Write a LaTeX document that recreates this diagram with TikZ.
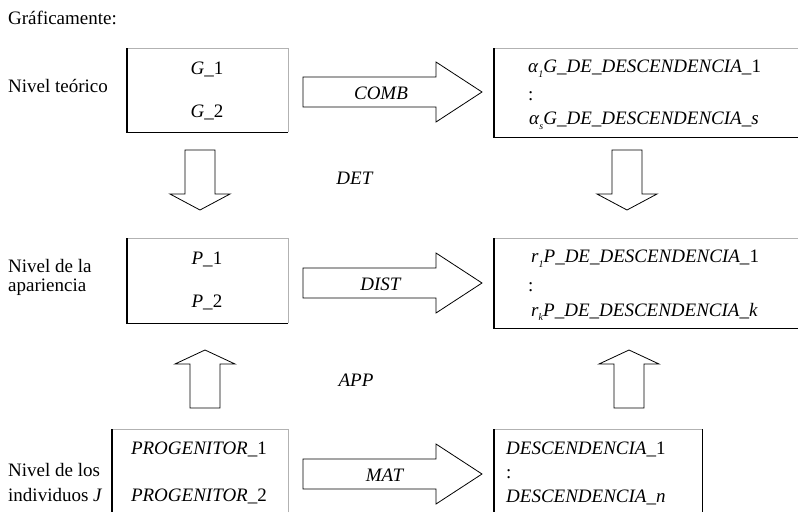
\documentclass[tikz,border=0pt]{standalone}
\usepackage{fontspec}
\setmainfont{Liberation Serif}

\newcommand{\lowidx}[1]{\raisebox{-0.25em}{\fontsize{10}{10}\selectfont\textit{#1}}}

\begin{document}
\begin{tikzpicture}[x=1pt,y=-1pt,
	font=\fontsize{19}{22}\selectfont,
	dark/.style={black,line width=1.2pt},
	light/.style={gray!60,line width=0.8pt},
	blockarrow/.style={black,line width=0.8pt,line join=miter},
	levelbox/.style={rectangle,inner sep=0pt,anchor=north west},
	txt/.style={inner sep=0pt}]

	\useasboundingbox (0,0) rectangle (798,512);

	% heading and level names
	\node[txt,anchor=west] (titulo) at (8,18) {Gráficamente:};
	\node[txt,anchor=west] (teorico) at (8,86) {Nivel teórico};
	\node[txt,anchor=west] (apar1) at (8,266) {Nivel de la};
	\node[txt,anchor=west] (apar2) at (8,287) {apariencia};
	\node[txt,anchor=west] (indiv1) at (8,470) {Nivel de los};
	\node[txt,anchor=west] (indiv2) at (8,495) {individuos \textit{J}};

	% boxes
	\node[levelbox,minimum width=161pt,minimum height=84pt] (G) at (127,48) {};
	\node[levelbox,minimum width=304pt,minimum height=89pt] (GD) at (494,48) {};
	\node[levelbox,minimum width=161pt,minimum height=85pt] (P) at (127,238) {};
	\node[levelbox,minimum width=304pt,minimum height=90pt] (PD) at (494,238) {};
	\node[levelbox,minimum width=176pt,minimum height=83pt] (J) at (112,429) {};
	\node[levelbox,minimum width=208pt,minimum height=83pt] (JD) at (494,429) {};

	\draw[light] (G.south east) -- (G.north east) -- (G.north west);
	\draw[dark] (G.north west) -- (G.south west) -- (G.south east);
	\draw[light] (GD.north east) -- (GD.north west);
	\draw[dark] (GD.north west) -- (GD.south west) -- (GD.south east);
	\draw[light] (P.south east) -- (P.north east) -- (P.north west);
	\draw[dark] (P.north west) -- (P.south west) -- (P.south east);
	\draw[light] (PD.north east) -- (PD.north west);
	\draw[dark] (PD.north west) -- (PD.south west) -- (PD.south east);
	\draw[light] (J.south east) -- (J.north east) -- (J.north west);
	\draw[dark] (J.north west) -- (J.south west);
	\draw[light] (JD.north west) -- (JD.north east);
	\draw[dark] (JD.north east) -- (JD.south east);
	\draw[dark] (JD.north west) -- (JD.south west);

	% box contents
	\node[txt] (g1) at (207,69) {\textit{G\_}1};
	\node[txt] (g2) at (207,112) {\textit{G\_}2};
	\node[txt,anchor=west] (gd1) at (528,69) {\textit{α}\lowidx{1}\textit{G\_DE\_DESCENDENCIA\_}1};
	\node[txt,anchor=west] (gd2) at (528,96) {:};
	\node[txt,anchor=west] (gd3) at (529,121) {\textit{α}\lowidx{s}\textit{G\_DE\_DESCENDENCIA\_s}};

	\node[txt] (p1) at (207,259) {\textit{P\_}1};
	\node[txt] (p2) at (207,302) {\textit{P\_}2};
	\node[txt,anchor=west] (pd1) at (531,259) {\textit{r}\lowidx{1}\textit{P\_DE\_DESCENDENCIA\_}1};
	\node[txt,anchor=west] (pd2) at (528,287) {:};
	\node[txt,anchor=west] (pd3) at (531,312) {\textit{r}\lowidx{k}\textit{P\_DE\_DESCENDENCIA\_k}};

	\node[txt] (j1) at (199,449) {\textit{PROGENITOR\_}1};
	\node[txt] (j2) at (199,496) {\textit{PROGENITOR\_}2};
	\node[txt,anchor=west] (jd1) at (506,449) {\textit{DESCENDENCIA\_}1};
	\node[txt,anchor=west] (jd2) at (506,474) {:};
	\node[txt,anchor=west] (jd3) at (506,497) {\textit{DESCENDENCIA\_n}};

	% horizontal block arrows
	\draw[blockarrow] (303,77) -- (436,77) -- (436,62) -- (482,92) -- (436,122) -- (436,107) -- (303,107) -- cycle;
	\draw[blockarrow] (303,268) -- (436,268) -- (436,253) -- (482,283) -- (436,313) -- (436,298) -- (303,298) -- cycle;
	\draw[blockarrow] (303,459) -- (436,459) -- (436,444) -- (482,474) -- (436,504) -- (436,489) -- (303,489) -- cycle;
	\node[txt] (comb) at (381,93) {\textit{COMB}};
	\node[txt] (dist) at (381,284) {\textit{DIST}};
	\node[txt] (mat) at (385,475) {\textit{MAT}};

	% vertical block arrows
	\draw[blockarrow] (185,150) -- (215,150) -- (215,194) -- (230,194) -- (200,210) -- (170,194) -- (185,194) -- cycle;
	\draw[blockarrow] (612,150) -- (642,150) -- (642,194) -- (657,194) -- (627,210) -- (597,194) -- (612,194) -- cycle;
	\draw[blockarrow] (190,408) -- (220,408) -- (220,364) -- (235,364) -- (205,350) -- (175,364) -- (190,364) -- cycle;
	\draw[blockarrow] (614,408) -- (644,408) -- (644,364) -- (659,364) -- (629,350) -- (599,364) -- (614,364) -- cycle;
	\node[txt] (det) at (355,178) {\textit{DET}};
	\node[txt] (app) at (356,380) {\textit{APP}};

\end{tikzpicture}
\end{document}
